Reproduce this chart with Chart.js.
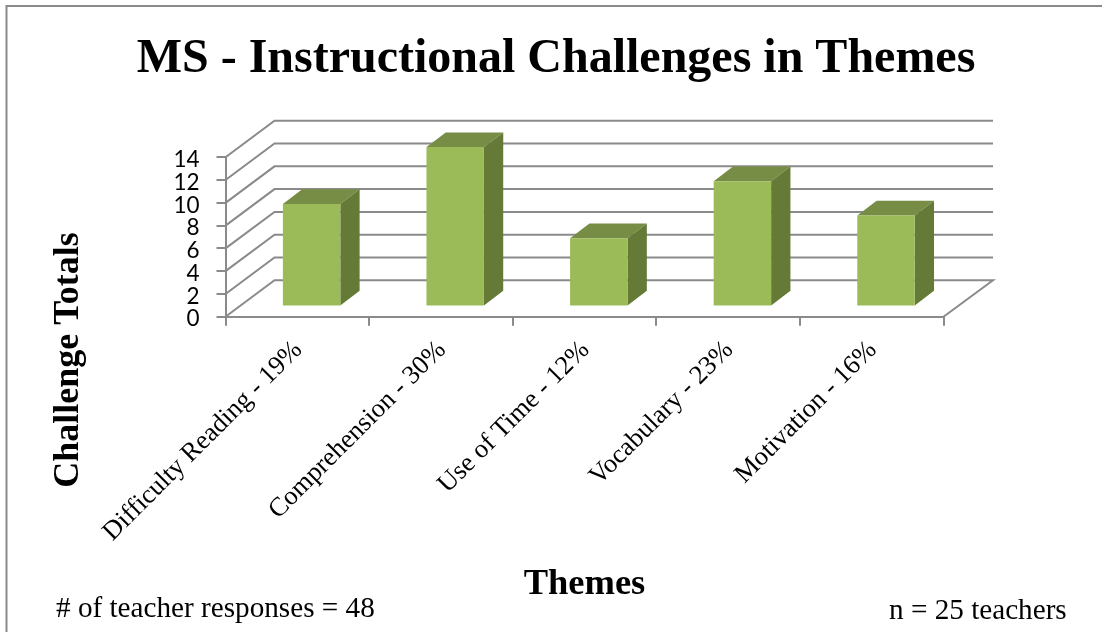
<!DOCTYPE html>
<html>
<head>
<meta charset="utf-8">
<title>MS - Instructional Challenges in Themes</title>
<script src="https://cdn.jsdelivr.net/npm/chart.js@4"></script>
<style>
  html, body { margin: 0; padding: 0; background: #fff; }
  canvas { display: block; }
</style>
</head>
<body>
<canvas id="grafico" width="1102" height="632"></canvas>
<script>
const temas = ['Difficulty Reading - 19%', 'Comprehension - 30%', 'Use of Time - 12%', 'Vocabulary - 23%', 'Motivation - 16%'];
const totais = [9, 14, 6, 11, 8];
const yTicks = [0, 2, 4, 6, 8, 10, 12, 14];
const titulo = 'MS - Instructional Challenges in Themes';
const tituloY = 'Challenge Totals';
const notaEsq = '# of teacher responses = 48';
const notaDir = 'n = 25 teachers';

const SERIF = '"Liberation Serif", "Times New Roman", serif';
const CINZA = '#8A8A8A';

// fake 3D look: back wall, floor and the bar sides
const efeito3d = {
  id: 'efeito3d',
  beforeDraw(chart) {
    const c = chart.ctx;
    c.save();
    c.strokeStyle = CINZA;
    c.lineWidth = 2;
    c.beginPath();
    c.moveTo(6.5, 632);
    c.lineTo(6.5, 6);
    c.lineTo(1102, 6);
    c.stroke();
    c.restore();
  },
  beforeDatasetsDraw(chart) {
    const c = chart.ctx;
    const { left, right } = chart.chartArea;
    const y = chart.scales.y;
    c.save();
    c.strokeStyle = CINZA;
    c.lineWidth = 2;
    yTicks.forEach(v => {
      const py = y.getPixelForValue(v);
      c.beginPath();
      c.moveTo(left, py);
      c.lineTo(left + 49, py - 36.5);
      c.lineTo(right + 49.5, py - 36.5);
      if (v === 0) c.lineTo(right, py);
      c.stroke();
    });
    c.restore();

    // bars sit forward of the axis plane
    c.save();
    c.translate(14.3, -10.2);
    const dx = 19.3, dy = -14.7;
    chart.getDatasetMeta(0).data.forEach(b => {
      const l = b.x - b.width / 2, r = b.x + b.width / 2;
      c.fillStyle = '#778D45';
      c.beginPath();
      c.moveTo(l, b.y);
      c.lineTo(l + dx, b.y + dy);
      c.lineTo(r + dx, b.y + dy);
      c.lineTo(r, b.y);
      c.closePath();
      c.fill();
      c.fillStyle = '#647A36';
      c.beginPath();
      c.moveTo(r, b.y);
      c.lineTo(r + dx, b.y + dy);
      c.lineTo(r + dx, b.base + dy);
      c.lineTo(r, b.base);
      c.closePath();
      c.fill();
    });
  },
  afterDatasetsDraw(chart) {
    chart.ctx.restore();
  },
  afterDraw(chart) {
    const c = chart.ctx;
    c.save();
    c.fillStyle = '#000';
    c.textBaseline = 'alphabetic';

    c.textAlign = 'center';
    c.font = 'bold 48px ' + SERIF;
    c.fillText(titulo, 556, 72);

    c.font = '29.2px ' + SERIF;
    c.textAlign = 'left';
    c.fillText(notaEsq, 56, 617);
    c.fillText(notaDir, 889, 619);

    c.translate(78, 360);
    c.rotate(-Math.PI / 2);
    c.textAlign = 'center';
    c.font = 'bold 36px ' + SERIF;
    c.fillText(tituloY, 0, 0);
    c.restore();
  }
};

new Chart(document.getElementById('grafico').getContext('2d'), {
  type: 'bar',
  data: {
    labels: temas,
    datasets: [{
      data: totais,
      backgroundColor: '#9BBB59',
      barPercentage: 0.8,
      categoryPercentage: 0.5,
      clip: false
    }]
  },
  plugins: [efeito3d],
  options: {
    responsive: false,
    animation: false,
    layout: { padding: { left: 0, right: 158.5, top: 157.3, bottom: 25.3 } },
    plugins: {
      legend: { display: false },
      tooltip: { enabled: false }
    },
    scales: {
      x: {
        afterFit(s) { s.height = 290; },
        grid: { drawOnChartArea: false, color: CINZA, lineWidth: 2, tickLength: 9 },
        border: { color: CINZA, width: 2 },
        ticks: {
          color: '#000',
          font: { family: SERIF, size: 26.5 },
          minRotation: 45,
          maxRotation: 45,
          labelOffset: 1,
          padding: 9,
          autoSkip: false
        },
        title: {
          display: true,
          text: 'Themes',
          color: '#000',
          font: { family: SERIF, size: 36.5, weight: 'bold' },
          padding: 0
        }
      },
      y: {
        min: 0,
        max: 14,
        afterFit(s) { s.width = 225.5; },
        afterBuildTicks(s) { s.ticks = yTicks.map(v => ({ value: v })); },
        grid: { drawOnChartArea: false, color: CINZA, lineWidth: 2, tickLength: 9 },
        border: { color: CINZA, width: 2 },
        ticks: {
          color: '#000',
          font: { family: 'Lato', size: 22.5 },
          padding: 17,
          labelOffset: 2.5,
          autoSkip: false
        }
      }
    }
  }
});
</script>
</body>
</html>
